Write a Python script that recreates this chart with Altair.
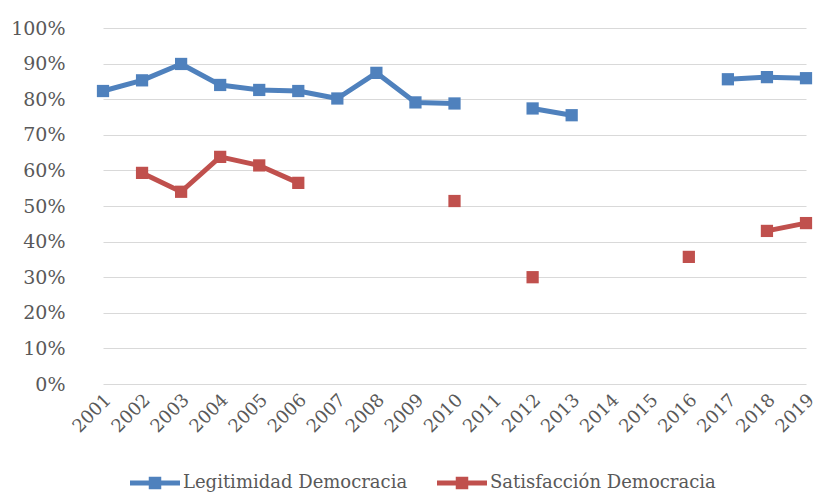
import altair as alt
import pandas as pd

years = ["2001", "2002", "2003", "2004", "2005", "2006", "2007", "2008", "2009", "2010",
         "2011", "2012", "2013", "2014", "2015", "2016", "2017", "2018", "2019"]
legitimidad = [82.3, 85.3, 89.9, 84.0, 82.6, 82.3, 80.2, 87.4, 79.1, 78.8,
               None, 77.4, 75.5, None, None, None, 85.6, 86.2, 85.9]
satisfaccion = [None, 59.3, 54.0, 63.8, 61.4, 56.5, None, None, None, 51.4,
                None, 30.0, None, None, None, 35.7, None, 43.0, 45.2]
series_names = ["Legitimidad Democracia", "Satisfacción Democracia"]
colors = ["#4F81BD", "#C0504D"]

rows = []
for name, vals in zip(series_names, [legitimidad, satisfaccion]):
    seg = 0
    prev_none = True
    for y, v in zip(years, vals):
        if v is None:
            prev_none = True
            continue
        if prev_none:
            seg += 1
            prev_none = False
        rows.append({"year": y, "value": v / 100.0, "series": name, "seg": f"{name}-{seg}"})
df = pd.DataFrame(rows)

FONT = "DejaVu Serif"
TXT = "#595959"

x_enc = alt.X("year:O", scale=alt.Scale(type="point", domain=years, range=[19, 722], padding=0),
              axis=alt.Axis(title=None, labelAngle=-45, labelAlign="right", labelBaseline="middle",
                            labelFontSize=18, labelColor=TXT, labelFont=FONT, labelPadding=13,
                            labelOffset=5, domain=False, ticks=False, grid=False))
y_enc = alt.Y("value:Q", scale=alt.Scale(domain=[0, 1]),
              axis=alt.Axis(title=None, format=".0%", values=[i / 10 for i in range(11)],
                            labelFontSize=19, labelColor=TXT, labelFont=FONT, labelPadding=19,
                            domain=False, ticks=False, grid=True, gridColor="#D9D9D9", gridWidth=1))

legend_path = ("M-1,-0.1 L1,-0.1 L1,0.1 L-1,0.1 Z "
               "M-0.25,-0.25 L0.25,-0.25 L0.25,0.25 L-0.25,0.25 Z")

lines = alt.Chart(df).mark_line(strokeWidth=5, strokeJoin="round").encode(
    x=x_enc, y=y_enc,
    color=alt.Color("series:N", scale=alt.Scale(domain=series_names, range=colors), legend=None),
    detail="seg:N")

points = alt.Chart(df).mark_square(size=150, opacity=1).encode(
    x=x_enc, y=y_enc,
    color=alt.Color("series:N", scale=alt.Scale(domain=series_names, range=colors),
                    legend=alt.Legend(title=None, orient="none", direction="horizontal",
                                      legendX=46, legendY=430, symbolType=legend_path,
                                      symbolSize=2500, symbolStrokeWidth=0, symbolOpacity=1,
                                      labelFont=FONT, labelFontSize=18, labelColor=TXT,
                                      labelOffset=3, columnPadding=29, labelLimit=400)))

chart = alt.layer(lines, points).resolve_legend(color="independent").properties(
    width=736, height=356,
    padding={"left": 84, "top": 28, "right": 0, "bottom": 109},
    autosize="none",
    background="white",
).configure_view(stroke=None)

chart.save("out.html", embed_options={"renderer": "svg", "actions": False})
